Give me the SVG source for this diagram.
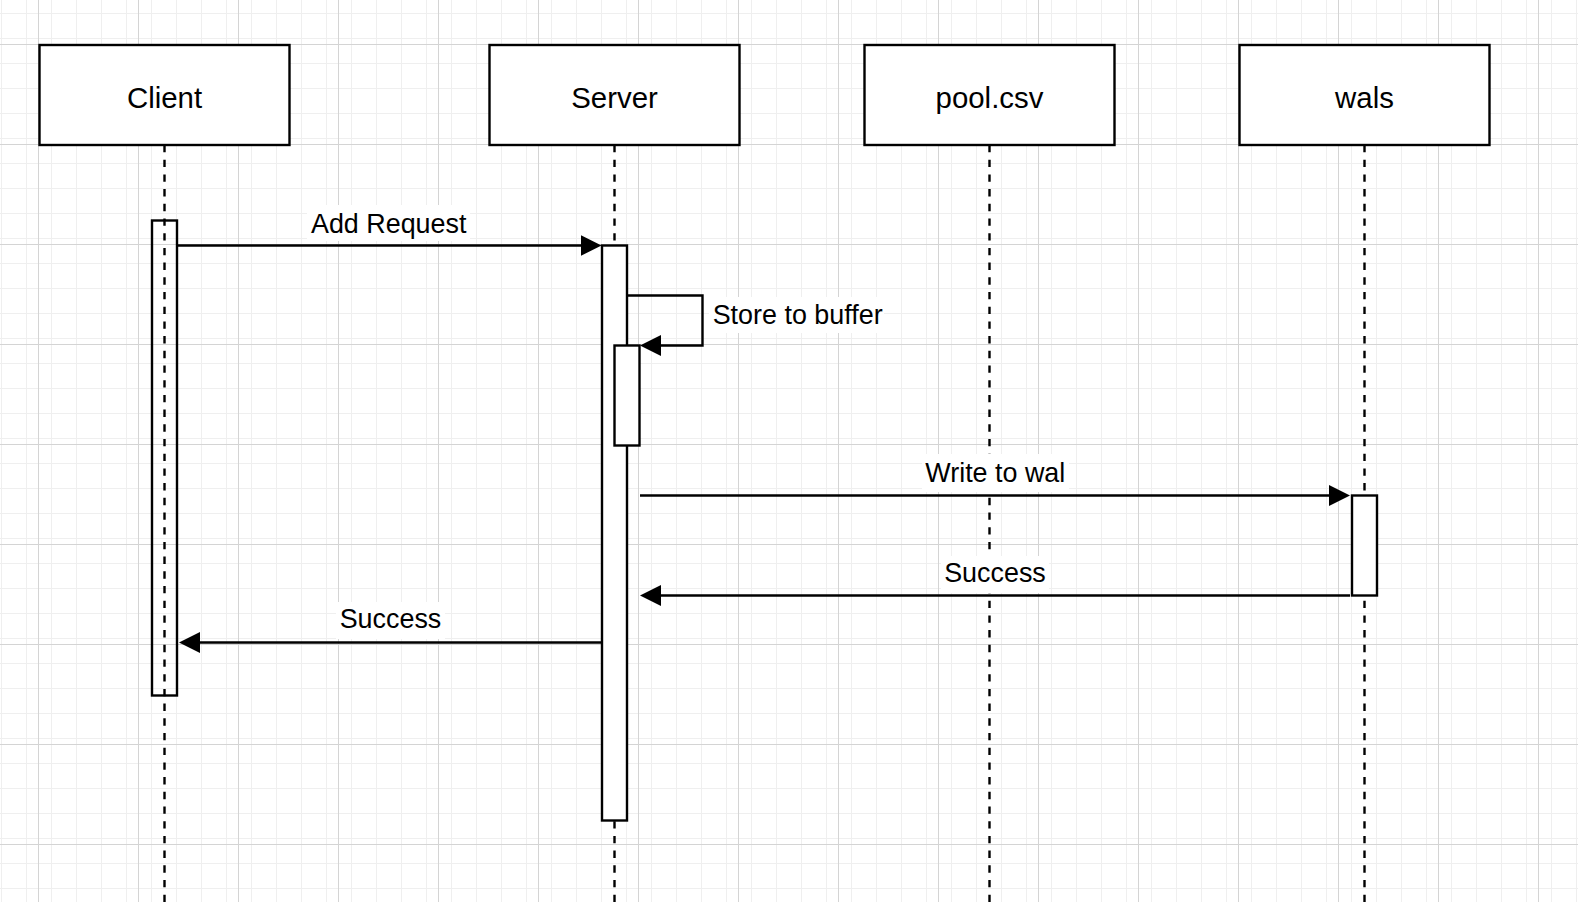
<svg xmlns="http://www.w3.org/2000/svg" width="1578" height="902" viewBox="0 0 1578 902">
<style>
.box{fill:#fff;stroke:#000;stroke-width:2.4}
.act{fill:#fff;stroke:#000;stroke-width:2.4}
.life{fill:none;stroke:#000;stroke-width:2.4;stroke-dasharray:7.35 7.35}
.ntext{font-family:"Liberation Sans",Arial,Helvetica,sans-serif;font-size:29.4px;fill:#000;text-anchor:middle}
.ltext{font-family:"Liberation Sans",Arial,Helvetica,sans-serif;font-size:26.9px;fill:#000}
.msg{fill:none;stroke:#000;stroke-width:2.4;marker-end:url(#arrow)}
.lbg{fill:#fff}
</style>
<defs>
<pattern id="minor" x="38" y="44" width="25" height="25" patternUnits="userSpaceOnUse">
<path d="M0.5,0 V25 M0,0.5 H25" stroke="#efefef" stroke-width="1" fill="none"/>
</pattern>
<pattern id="major" x="38" y="44" width="100" height="100" patternUnits="userSpaceOnUse">
<rect width="100" height="100" fill="url(#minor)"/>
<path d="M0.5,0 V100 M0,0.5 H100" stroke="#d4d4d4" stroke-width="1" fill="none"/>
</pattern>
<marker id="arrow" markerUnits="userSpaceOnUse" markerWidth="21" markerHeight="21" refX="5" refY="10.5" orient="auto">
<path d="M0,0 L21,10.5 L0,21 Z" fill="#000"/>
</marker>
</defs>
<rect width="1578" height="902" fill="#fff"/>
<rect width="1578" height="902" fill="url(#major)"/>

<g id="lifelines">
<path class="life" d="M164.5,145 V902"/>
<path class="life" d="M614.5,145 V902"/>
<path class="life" d="M989.5,145 V902"/>
<path class="life" d="M1364.5,145 V902"/>
</g>

<g id="node-client">
<rect class="box" x="39.5" y="45" width="250" height="100"/>
<text class="ntext" x="164.5" y="108.3">Client</text>
</g>
<g id="node-server">
<rect class="box" x="489.5" y="45" width="250" height="100"/>
<text class="ntext" x="614.5" y="108.3">Server</text>
</g>
<g id="node-pool">
<rect class="box" x="864.5" y="45" width="250" height="100"/>
<text class="ntext" x="989.5" y="108.3">pool.csv</text>
</g>
<g id="node-wals">
<rect class="box" x="1239.5" y="45" width="250" height="100"/>
<text class="ntext" x="1364.5" y="108.3">wals</text>
</g>

<g id="act-client">
<rect x="152" y="220.5" width="25" height="475" fill="none" stroke="#000" stroke-width="2.4"/>
</g>
<g id="act-server">
<rect class="act" x="602" y="245.5" width="25" height="575"/>
</g>
<g id="act-server-self">
<rect class="act" x="614.5" y="345.5" width="25" height="100"/>
</g>
<g id="act-wals">
<rect class="act" x="1352" y="495.5" width="25" height="100"/>
</g>

<g id="connectors">
<rect class="lbg" x="307" y="205" width="163" height="36"/>
<text class="ltext" x="388.7" y="233.3" text-anchor="middle">Add Request</text>
<path class="msg" d="M177,245.5 H585.5"/>

<rect class="lbg" x="709" y="297" width="175" height="36"/>
<text class="ltext" x="712.7" y="324.3">Store to buffer</text>
<path class="msg" d="M627,295.5 H702.5 V345.5 H656"/>

<rect class="lbg" x="922" y="454" width="147" height="38"/>
<text class="ltext" x="995.3" y="482.3" text-anchor="middle">Write to wal</text>
<path class="msg" d="M640,495.5 H1334"/>

<rect class="lbg" x="941" y="556" width="108" height="37"/>
<text class="ltext" x="995" y="581.7" text-anchor="middle">Success</text>
<path class="msg" d="M1350,595.5 H656"/>

<rect class="lbg" x="336" y="602" width="109" height="37"/>
<text class="ltext" x="390.5" y="628.3" text-anchor="middle">Success</text>
<path class="msg" d="M602,642.5 H195"/>
</g>
</svg>
